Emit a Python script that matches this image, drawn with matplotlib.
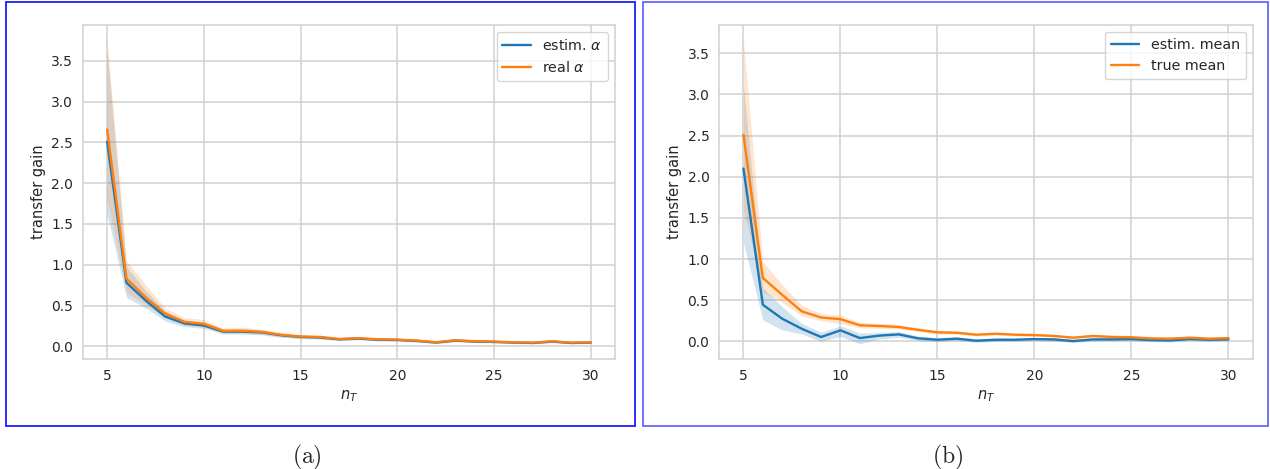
import matplotlib
matplotlib.use('Agg')
import matplotlib.pyplot as plt
from matplotlib.patches import Rectangle
import seaborn as sns
import numpy as np

# n_T values
n_t = list(range(5, 31))

# panel (a): estimated vs real alpha
a_est = [2.51, 0.78, 0.56, 0.365, 0.28, 0.255, 0.18, 0.18, 0.17, 0.135, 0.115, 0.108, 0.085,
         0.095, 0.08, 0.078, 0.066, 0.046, 0.07, 0.058, 0.054, 0.046, 0.041, 0.058, 0.041, 0.046]
a_est_lo = [1.62, 0.60, 0.47, 0.31, 0.24, 0.22, 0.15, 0.15, 0.14, 0.11, 0.095, 0.09, 0.07,
            0.08, 0.065, 0.063, 0.052, 0.034, 0.056, 0.045, 0.042, 0.034, 0.03, 0.045, 0.03, 0.035]
a_est_hi = [3.62, 0.98, 0.68, 0.43, 0.32, 0.30, 0.21, 0.215, 0.20, 0.16, 0.135, 0.128, 0.10,
            0.11, 0.095, 0.093, 0.08, 0.058, 0.084, 0.07, 0.066, 0.058, 0.052, 0.071, 0.052, 0.057]
a_real = [2.66, 0.83, 0.60, 0.40, 0.30, 0.275, 0.19, 0.19, 0.177, 0.14, 0.12, 0.115, 0.09,
          0.10, 0.086, 0.082, 0.07, 0.05, 0.075, 0.062, 0.058, 0.05, 0.045, 0.062, 0.045, 0.05]
a_real_lo = [1.80, 0.66, 0.51, 0.35, 0.26, 0.235, 0.16, 0.16, 0.15, 0.115, 0.10, 0.097, 0.076,
             0.086, 0.072, 0.068, 0.058, 0.038, 0.062, 0.05, 0.046, 0.039, 0.034, 0.05, 0.034, 0.038]
a_real_hi = [3.75, 1.05, 0.75, 0.47, 0.35, 0.33, 0.225, 0.235, 0.21, 0.17, 0.14, 0.133, 0.105,
             0.115, 0.10, 0.097, 0.083, 0.062, 0.09, 0.075, 0.07, 0.062, 0.056, 0.075, 0.056, 0.062]

# panel (b): estimated vs true mean
b_est = [2.10, 0.445, 0.275, 0.154, 0.053, 0.134, 0.04, 0.07, 0.085, 0.037, 0.02, 0.033, 0.008,
         0.02, 0.02, 0.028, 0.024, 0.004, 0.024, 0.024, 0.028, 0.016, 0.012, 0.028, 0.02, 0.025]
b_est_lo = [1.20, 0.26, 0.14, 0.09, 0.0, 0.06, -0.03, 0.03, 0.05, 0.01, -0.005, 0.01, -0.012,
            0.0, 0.0, 0.008, 0.004, -0.015, 0.005, 0.005, 0.008, -0.003, -0.008, 0.008, 0.0, 0.005]
b_est_hi = [3.10, 0.65, 0.42, 0.22, 0.11, 0.19, 0.10, 0.11, 0.12, 0.065, 0.045, 0.055, 0.03,
            0.04, 0.04, 0.048, 0.044, 0.024, 0.044, 0.043, 0.048, 0.035, 0.032, 0.048, 0.04, 0.045]
b_true = [2.51, 0.77, 0.565, 0.365, 0.29, 0.27, 0.195, 0.187, 0.175, 0.14, 0.11, 0.105, 0.081,
          0.093, 0.081, 0.077, 0.066, 0.045, 0.066, 0.054, 0.05, 0.036, 0.033, 0.045, 0.033, 0.04]
b_true_lo = [1.60, 0.60, 0.47, 0.31, 0.25, 0.215, 0.165, 0.16, 0.15, 0.12, 0.09, 0.088, 0.066,
             0.078, 0.066, 0.063, 0.052, 0.032, 0.052, 0.04, 0.037, 0.024, 0.021, 0.032, 0.021, 0.028]
b_true_hi = [3.655, 0.97, 0.69, 0.44, 0.335, 0.32, 0.23, 0.22, 0.205, 0.165, 0.13, 0.124, 0.097,
             0.109, 0.097, 0.092, 0.08, 0.06, 0.08, 0.068, 0.064, 0.05, 0.046, 0.058, 0.046, 0.053]

sns.set_style('whitegrid')
plt.rcParams['font.family'] = ['DejaVu Sans']

fig = plt.figure(figsize=(12.70, 4.69), dpi=100)
ax_a = fig.add_axes([0.0653, 0.2345, 0.4190, 0.7115])
ax_b = fig.add_axes([0.5663, 0.2345, 0.4201, 0.7115])

blue = '#1f77b4'
orange = '#ff7f0e'

paneles = [
    (ax_a, a_est, a_est_lo, a_est_hi, a_real, a_real_lo, a_real_hi,
     r'estim. $\alpha$', r'real $\alpha$'),
    (ax_b, b_est, b_est_lo, b_est_hi, b_true, b_true_lo, b_true_hi,
     'estim. mean', 'true mean'),
]

for ax, e, elo, ehi, r, rlo, rhi, lab1, lab2 in paneles:
    ax.fill_between(n_t, elo, ehi, color=blue, alpha=0.2, linewidth=0)
    ax.plot(n_t, e, color=blue, lw=1.7, label=lab1)
    ax.fill_between(n_t, rlo, rhi, color=orange, alpha=0.2, linewidth=0)
    ax.plot(n_t, r, color=orange, lw=1.7, label=lab2)
    ax.set_xticks([5, 10, 15, 20, 25, 30])
    ax.set_yticks(np.arange(0, 3.51, 0.5))
    ax.tick_params(labelsize=10, colors='.15')
    ax.grid(color='.82', lw=1.1)
    ax.set_xlabel('$n_T$', fontsize=10.5, color='.15')
    ax.set_ylabel('transfer gain', fontsize=10.5, color='.15')
    for sp in ax.spines.values():
        sp.set_color('.82')
        sp.set_linewidth(1.1)
    ax.legend(loc='upper right', fontsize=10.3)

# blue frames around each sub-figure
fig.patches.append(Rectangle((6.3 / 1270, 43 / 469), 628.7 / 1270, 424.3 / 469,
                             transform=fig.transFigure, fill=False, edgecolor='#0a0aff', lw=1.2))
fig.patches.append(Rectangle((643 / 1270, 43 / 469), 625 / 1270, 424.3 / 469,
                             transform=fig.transFigure, fill=False, edgecolor='#5a5aff', lw=1.2))

fig.text(307 / 1270, 1 - 457 / 469, r'$\mathrm{(a)}$', fontsize=17, ha='center', va='center',
         math_fontfamily='cm')
fig.text(948 / 1270, 1 - 457 / 469, r'$\mathrm{(b)}$', fontsize=17, ha='center', va='center',
         math_fontfamily='cm')

fig.savefig('out.png', dpi=100)
